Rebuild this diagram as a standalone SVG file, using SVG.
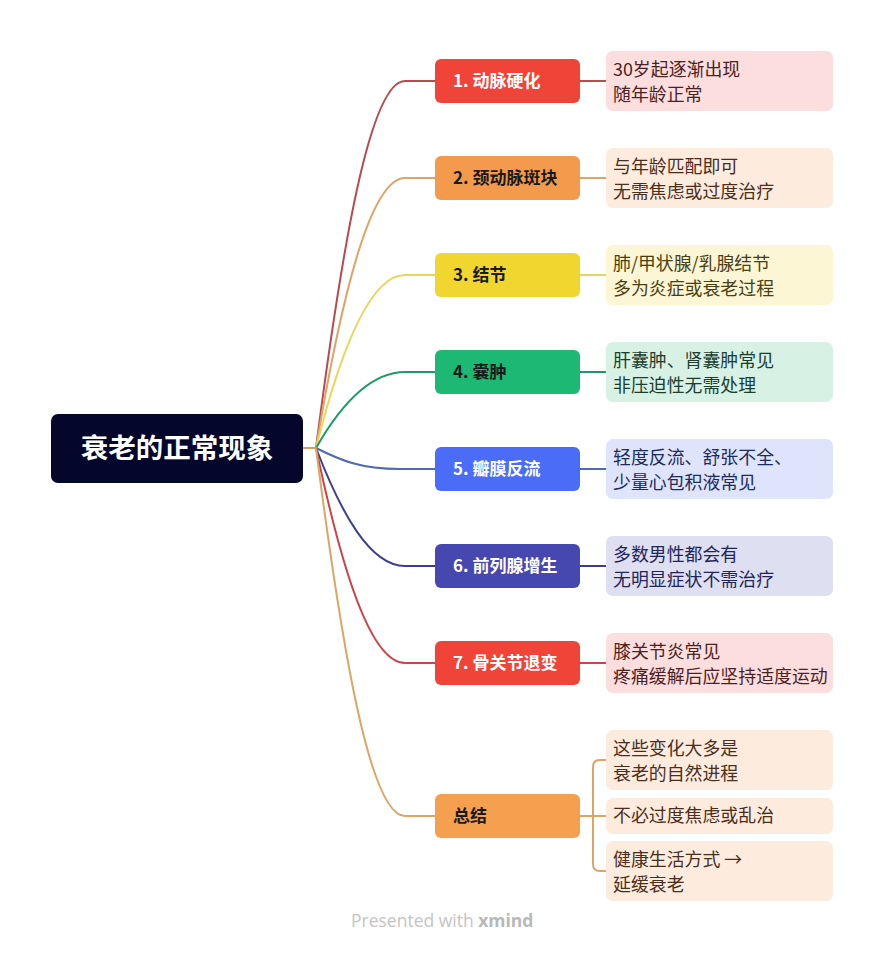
<svg xmlns="http://www.w3.org/2000/svg" width="885" height="953" viewBox="0 0 885 953">
<style>
text{font-family:"Noto Sans CJK SC","Noto Sans",sans-serif}
.root{font-size:27.5px;font-weight:700;fill:#ffffff}
.nt{font-size:17px;font-weight:700}
.lt{font-size:17.9px}
.c{fill:none;stroke-width:2;stroke-linecap:round}
</style>
<rect width="885" height="953" fill="#ffffff"/>
<g id="connectors">
<path class="c" stroke="#D99E62" d="M303,448 H316"/>
<path class="c" stroke="#B94A4E" d="M316,448 C342,246 370,81 405,81 H435 M580,81 H606"/>
<path class="c" stroke="#E0A366" d="M316,448 C341,299 370,178 405,178 H435 M580,178 H606"/>
<path class="c" stroke="#EAD55A" d="M316,448 C340,352 370,275 405,275 H435 M580,275 H606"/>
<path class="c" stroke="#1E9A68" d="M316,448 C340,406 370,372 405,372 H435 M580,372 H606"/>
<path class="c" stroke="#4F6AAE" d="M316,448 C340,460 360,469 400,469 H435 M580,469 H606"/>
<path class="c" stroke="#3C3F8E" d="M316,448 C341,513 370,566 405,566 H435 M580,566 H606"/>
<path class="c" stroke="#C9444B" d="M316,448 C341,566 370,663 405,663 H435 M580,663 H606"/>
<path class="c" stroke="#DCA565" d="M316,448 C342,650 370,816 405,816 H435"/>
<path class="c" stroke="#DCA565" d="M580,816 H606 M606,760 H600 Q593,760 593,767 V864 Q593,871 600,871 H606"/>
</g>
<g id="root">
<rect x="51" y="414" width="252" height="69" rx="7" fill="#05062B"/>
<text class="root" x="177" y="458" text-anchor="middle">衰老的正常现象</text>
</g>
<g id="n1">
<rect x="435" y="59" width="145" height="44" rx="6" fill="#F04438"/>
<text class="nt" x="453" y="87" fill="#ffffff">1. 动脉硬化</text>
</g>
<g id="l1">
<rect x="606" y="51" width="227" height="60" rx="7" fill="#FCDEDE"/>
<text class="lt" x="613" y="76" fill="#4a2222">30岁起逐渐出现</text>
<text class="lt" x="613" y="101" fill="#4a2222">随年龄正常</text>
</g>
<g id="n2">
<rect x="435" y="156" width="145" height="44" rx="6" fill="#F39A4C"/>
<text class="nt" x="453" y="184" fill="#1a1a1a">2. 颈动脉斑块</text>
</g>
<g id="l2">
<rect x="606" y="148" width="227" height="60" rx="7" fill="#FDEBDE"/>
<text class="lt" x="613" y="173" fill="#4a2e1c">与年龄匹配即可</text>
<text class="lt" x="613" y="198" fill="#4a2e1c">无需焦虑或过度治疗</text>
</g>
<g id="n3">
<rect x="435" y="253" width="145" height="44" rx="6" fill="#F2D630"/>
<text class="nt" x="453" y="281" fill="#1a1a1a">3. 结节</text>
</g>
<g id="l3">
<rect x="606" y="245" width="227" height="60" rx="7" fill="#FCF6D5"/>
<text class="lt" x="613" y="270" fill="#4a3f12">肺/甲状腺/乳腺结节</text>
<text class="lt" x="613" y="295" fill="#4a3f12">多为炎症或衰老过程</text>
</g>
<g id="n4">
<rect x="435" y="350" width="145" height="44" rx="6" fill="#1DB874"/>
<text class="nt" x="453" y="378" fill="#1a1a1a">4. 囊肿</text>
</g>
<g id="l4">
<rect x="606" y="342" width="227" height="60" rx="7" fill="#D7F2E5"/>
<text class="lt" x="613" y="367" fill="#1c3d2e">肝囊肿、肾囊肿常见</text>
<text class="lt" x="613" y="392" fill="#1c3d2e">非压迫性无需处理</text>
</g>
<g id="n5">
<rect x="435" y="447" width="145" height="44" rx="6" fill="#4A6CF7"/>
<text class="nt" x="453" y="475" fill="#ffffff">5. 瓣膜反流</text>
</g>
<g id="l5">
<rect x="606" y="439" width="227" height="60" rx="7" fill="#DDE4FB"/>
<text class="lt" x="613" y="464" fill="#1d2a5c">轻度反流、舒张不全、</text>
<text class="lt" x="613" y="489" fill="#1d2a5c">少量心包积液常见</text>
</g>
<g id="n6">
<rect x="435" y="544" width="145" height="44" rx="6" fill="#4747B0"/>
<text class="nt" x="453" y="572" fill="#ffffff">6. 前列腺增生</text>
</g>
<g id="l6">
<rect x="606" y="536" width="227" height="60" rx="7" fill="#DEDFF0"/>
<text class="lt" x="613" y="561" fill="#23245a">多数男性都会有</text>
<text class="lt" x="613" y="586" fill="#23245a">无明显症状不需治疗</text>
</g>
<g id="n7">
<rect x="435" y="641" width="145" height="44" rx="6" fill="#F04438"/>
<text class="nt" x="453" y="669" fill="#ffffff">7. 骨关节退变</text>
</g>
<g id="l7">
<rect x="606" y="633" width="227" height="60" rx="7" fill="#FCDEDE"/>
<text class="lt" x="613" y="658" fill="#4a2222">膝关节炎常见</text>
<text class="lt" x="613" y="683" fill="#4a2222">疼痛缓解后应坚持适度运动</text>
</g>
<g id="n8">
<rect x="435" y="794" width="145" height="44" rx="6" fill="#F4A04E"/>
<text class="nt" x="453" y="822" fill="#1a1a1a">总结</text>
</g>
<g id="l8a">
<rect x="606" y="730" width="227" height="60" rx="7" fill="#FDEBDE"/>
<text class="lt" x="613" y="755" fill="#4a2e1c">这些变化大多是</text>
<text class="lt" x="613" y="780" fill="#4a2e1c">衰老的自然进程</text>
</g>
<g id="l8b">
<rect x="606" y="798" width="227" height="36" rx="7" fill="#FDEBDE"/>
<text class="lt" x="613" y="822" fill="#4a2e1c">不必过度焦虑或乱治</text>
</g>
<g id="l8c">
<rect x="606" y="841" width="227" height="60" rx="7" fill="#FDEBDE"/>
<text class="lt" x="613" y="866" fill="#4a2e1c">健康生活方式 →</text>
<text class="lt" x="613" y="891" fill="#4a2e1c">延缓衰老</text>
</g>
<g id="footer">
<text x="351" y="927" font-size="17.5" fill="#c4c4c4" style="font-family:'Open Sans','Noto Sans',sans-serif">Presented with <tspan font-weight="700" fill="#b8b8b8">xmind</tspan></text>
</g>
</svg>
